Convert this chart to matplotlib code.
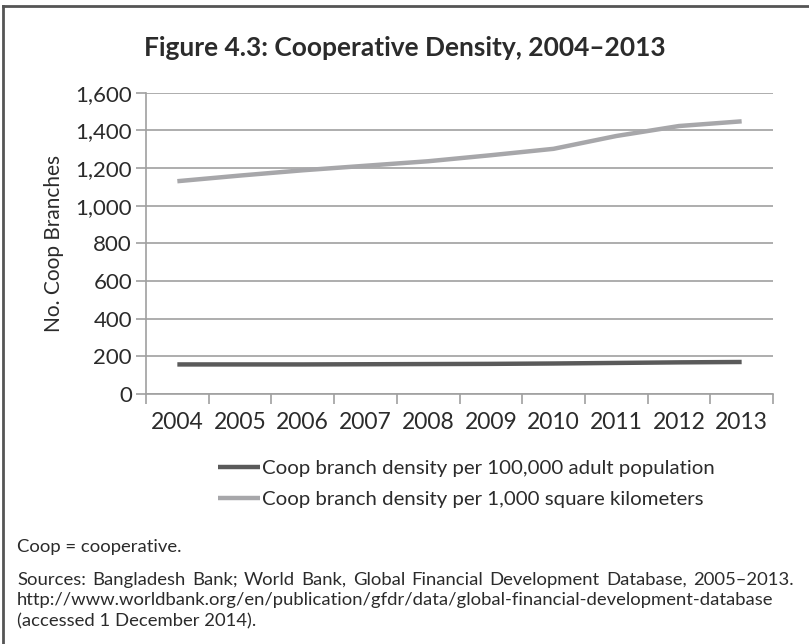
import matplotlib.pyplot as plt
from matplotlib.lines import Line2D
from matplotlib.ticker import FuncFormatter

# Cooperative branch density, Bangladesh
years = ["2004", "2005", "2006", "2007", "2008", "2009", "2010", "2011", "2012", "2013"]
per_100k_adults = [157, 157, 157, 158, 159, 160, 162, 165, 168, 170]
per_1000_sqkm = [1130, 1160, 1188, 1212, 1236, 1268, 1302, 1370, 1423, 1448]
y_ticks = [0, 200, 400, 600, 800, 1000, 1200, 1400, 1600]

label_adults = "Coop branch density per 100,000 adult population"
label_area = "Coop branch density per 1,000 square kilometers"

note_line = "Coop = cooperative."
source_line = "Sources: Bangladesh Bank; World Bank, Global Financial Development Database, 2005\u20132013."
url_line = "http://www.worldbank.org/en/publication/gfdr/data/global-financial-development-database"
accessed_line = "(accessed 1 December 2014)."

plt.rcParams['font.family'] = ['Lato', 'DejaVu Sans']
TEXT = '#2b2b2b'

fig = plt.figure(figsize=(8.09, 6.44), dpi=100)
W, H = 809, 644

# axes placed in pixel terms
ax = fig.add_axes([146 / W, 1 - 394 / H, (773 - 146) / W, (394 - 92.7) / H])

x = list(range(len(years)))
ax.plot(x, per_100k_adults, color='#5a5a5a', lw=3.2, solid_capstyle='butt', label=label_adults, zorder=3)
ax.plot(x, per_1000_sqkm, color='#a7a7aa', lw=3.2, solid_capstyle='butt', label=label_area, zorder=3)

ax.set_xlim(-0.5, len(years) - 0.5)
ax.set_ylim(0, 1600)
ax.set_yticks(y_ticks)
ax.yaxis.set_major_formatter(FuncFormatter(lambda v, p: f"{int(v):,}"))
ax.grid(axis='y', color='#a0a0a0', lw=1.2)
ax.set_axisbelow(True)

# ticks between categories, labels at the centres
ax.set_xticks([i - 0.5 for i in range(len(years) + 1)])
ax.set_xticklabels([])
ax.set_xticks(x, minor=True)
ax.set_xticklabels(years, minor=True)
ax.tick_params(axis='x', which='major', length=7, color='#a0a0a0', width=1.2)
ax.tick_params(axis='x', which='minor', length=0, pad=13, labelsize=16.5, labelcolor=TEXT)
ax.tick_params(axis='y', length=7, color='#a0a0a0', width=1.2, labelsize=16, labelcolor=TEXT, pad=3)

for side in ['top', 'right']:
    ax.spines[side].set_visible(False)
for side in ['left', 'bottom']:
    ax.spines[side].set_color('#a0a0a0')
    ax.spines[side].set_linewidth(1.2)

ax.set_ylabel("No. Coop Branches", fontsize=15, color=TEXT, labelpad=8)

fig.text(405 / W, 1 - 48 / H, "Figure 4.3: Cooperative Density, 2004\u20132013",
         ha='center', va='center', fontsize=19, fontweight='bold', color=TEXT)

fig.legend(loc='upper left', bbox_to_anchor=(210 / W, 1 - 452 / H), frameon=False,
           fontsize=14.7, handlelength=2.05, handletextpad=0.1, labelspacing=0.65,
           borderaxespad=0, labelcolor=TEXT)

# footnotes
left_px, right_px = 17, 794
fs = 13.3
fig.text(left_px / W, 1 - 547 / H, note_line, ha='left', va='center', fontsize=fs, color=TEXT)
fig.text(left_px / W, 1 - 600 / H, url_line, ha='left', va='center', fontsize=fs, color=TEXT)
fig.text(left_px / W, 1 - 621 / H, accessed_line, ha='left', va='center', fontsize=fs, color=TEXT)

# justified sources line: spread the words across the full text width
renderer = fig.canvas.get_renderer()
words = source_line.split()
word_texts = [fig.text(0, 1 - 580 / H, w, ha='left', va='center', fontsize=fs, color=TEXT) for w in words]
widths = [t.get_window_extent(renderer).width for t in word_texts]
gap = (right_px - left_px - sum(widths)) / (len(words) - 1)
pos = left_px
for t, w in zip(word_texts, widths):
    t.set_x(pos / W)
    pos += w + gap

# box border around the exhibit
fig.add_artist(Line2D([3 / W, 3 / W], [0, 1 - 6 / H], color='#555555', lw=2))
fig.add_artist(Line2D([3 / W, 1], [1 - 6 / H, 1 - 6 / H], color='#555555', lw=2))

fig.savefig("out.png", dpi=100)
